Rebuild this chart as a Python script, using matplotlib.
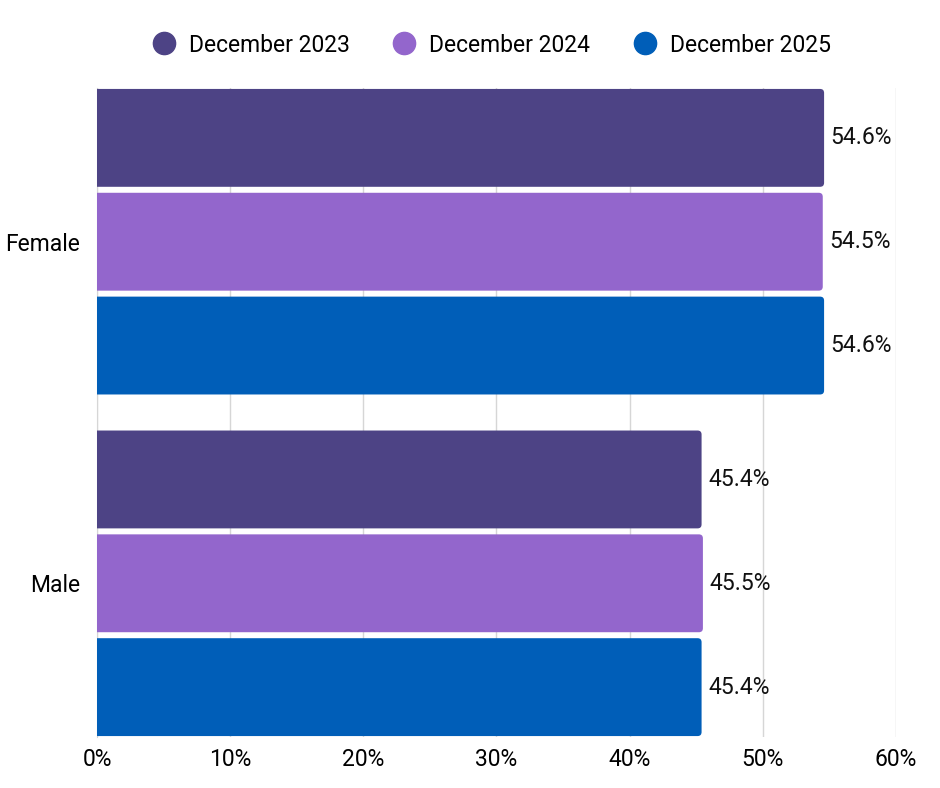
import numpy as np
import matplotlib
matplotlib.use("Agg")
import matplotlib.pyplot as plt
from matplotlib.patches import FancyBboxPatch
from matplotlib.lines import Line2D

plt.rcParams['font.family'] = ['Roboto', 'DejaVu Sans']

categories = ['Female', 'Male']
series = ['December 2023', 'December 2024', 'December 2025']
values = [
    [54.6, 45.4],
    [54.5, 45.5],
    [54.6, 45.4],
]
colors = ['#4D4385', '#9366CC', '#005EB8']
xticks = [0, 10, 20, 30, 40, 50, 60]

fs = 16.5

fig = plt.figure(figsize=(9.4, 7.88), dpi=100)
ax = fig.add_axes([97/940, 1-737/788, (896-97)/940, (737-88)/788])

bar_h = 0.2865
pitch = 0.304
pos = np.arange(len(categories))

for k, (name, vals) in enumerate(zip(series, values)):
    offs = (k - 1) * pitch
    for i, v in enumerate(vals):
        y0 = pos[i] + offs - bar_h/2
        p = FancyBboxPatch((-1, y0), v + 1, bar_h,
                           boxstyle="round,pad=0,rounding_size=0.3",
                           mutation_aspect=0.039,
                           fc=colors[k], ec='none', zorder=3)
        ax.add_patch(p)
        ax.text(v + 0.5, pos[i] + offs, f'{v:.1f}%', va='center', ha='left',
                fontsize=fs, color='#111111', zorder=4)

ax.set_xlim(0, 60)
ax.set_ylim(1.45, -0.45)
ax.set_xticks(xticks)
ax.set_xticklabels([f'{t}%' for t in xticks], fontsize=fs)
ax.set_yticks(pos)
ax.set_yticklabels(categories, fontsize=fs)
ax.tick_params(length=0, pad=8)
ax.tick_params(axis='y', pad=12)
ax.grid(axis='x', color='#d6d6d6', linewidth=1, zorder=0)
for s in ['top', 'right', 'bottom']:
    ax.spines[s].set_visible(False)
ax.spines['left'].set_color('#d6d6d6')

handles = [Line2D([], [], marker='o', ls='none', ms=16, color=c) for c in colors]
fig.legend(handles, series, loc='center', bbox_to_anchor=(0.517, 1-45/788),
           ncol=3, frameon=False, fontsize=fs, handletextpad=0.1,
           columnspacing=1.38)

fig.savefig('out.png', dpi=100)
